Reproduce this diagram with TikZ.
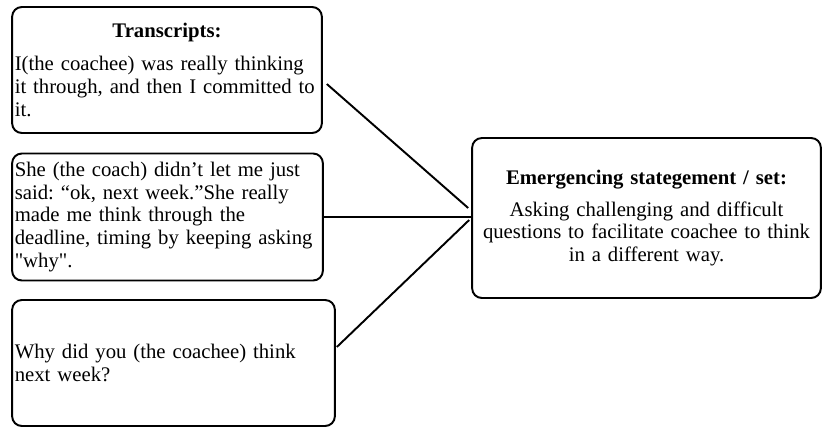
\documentclass[tikz,border=0pt]{standalone}
\usepackage{fontspec}
\setmainfont{Liberation Serif}[Ligatures=TeXOff]
\frenchspacing

\begin{document}
\begin{tikzpicture}[x=0.02cm, y=-0.02cm,
  quote/.style={draw, line width=1.1pt, rounded corners=5.5pt, align=left,
    inner xsep=1.5pt, inner ysep=2pt, font=\fontsize{11.8}{12.9}\selectfont},
  link/.style={line width=1.1pt}]
  \useasboundingbox (0,0) rectangle (822,427);
  % transcripts on the left
  \node[quote, text width=6.09cm, minimum height=2.52cm] (t1) at (167,70)
    {\makebox[\linewidth]{\textbf{Transcripts:}}\\[6pt]
     I(the coachee) was really thinking\\
     it through, and then I committed to\\
     it.};
  \node[quote, text width=6.11cm, minimum height=2.54cm] (t2) at (167.5,217)
    {She (the coach) didn’t let me just\\
     said: “ok, next week.”She really\\
     made me think through the\\
     deadline, timing by keeping asking\\
     "why".};
  \node[quote, text width=6.35cm, minimum height=2.52cm] (t3) at (173.5,363)
    {Why did you (the coachee) think\\
     next week?};
  % emerging statement
  \node[quote, align=center, text width=6.87cm, minimum height=3.2cm] (emg) at (646.5,218)
    {\textbf{Emergencing stategement / set:}\\[5pt]
     Asking challenging and difficult\\
     questions to facilitate coachee to think\\
     in a different way.};
  \draw[link] ([shift={(4,14)}]t1.east) -- ([shift={(-3,-10)}]emg.west);
  \draw[link] (t2.east) -- (t2.east -| emg.west);
  \draw[link] ([shift={(1,-16)}]t3.east) -- ([shift={(-2,2)}]emg.west);
\end{tikzpicture}
\end{document}
